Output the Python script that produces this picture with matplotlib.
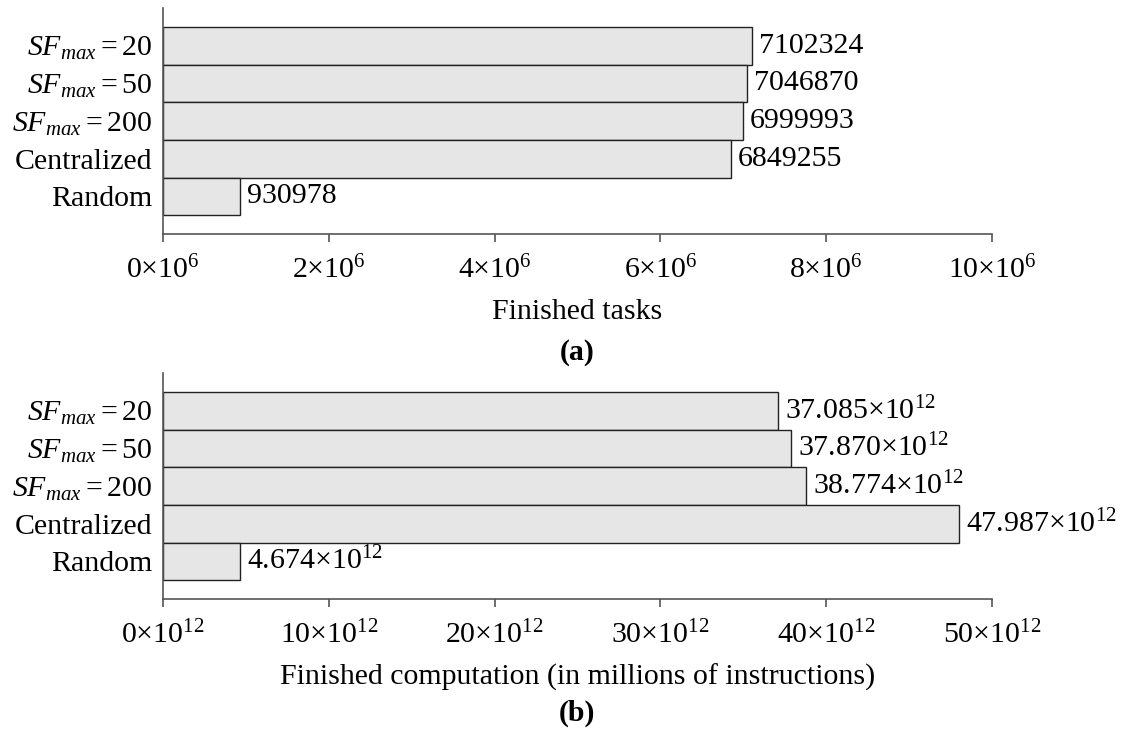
import numpy as np
import matplotlib.pyplot as plt

plt.rcParams["font.family"] = "Liberation Serif"
plt.rcParams["mathtext.fontset"] = "custom"
plt.rcParams["mathtext.rm"] = "Liberation Serif"
plt.rcParams["mathtext.it"] = "Liberation Serif:italic"
plt.rcParams["mathtext.bf"] = "Liberation Serif:bold"
plt.rcParams["font.size"] = 21.5

labels = [r"$SF_{max} = 20$", r"$SF_{max} = 50$", r"$SF_{max} = 200$",
          "Centralized", "Random"]
tasks = [7102324, 7046870, 6999993, 6849255, 930978]
comp = [37.085, 37.870, 38.774, 47.987, 4.674]  # x 10^12

fill = "#e6e6e6"
edge = "#222222"
axcol = "#555555"

fig = plt.figure(figsize=(11.21, 7.42), dpi=100)
ax1 = fig.add_axes([0.1454, 0.6846, 0.7395, 0.3046])
ax2 = fig.add_axes([0.1454, 0.1927, 0.7395, 0.3046])

ypos = np.arange(len(labels))[::-1]


def style(ax):
    for s in ["top", "right"]:
        ax.spines[s].set_visible(False)
    for s in ["left", "bottom"]:
        ax.spines[s].set_color(axcol)
        ax.spines[s].set_linewidth(1.2)
    ax.set_yticks(ypos)
    ax.set_yticklabels(labels)
    ax.tick_params(axis="y", length=0, pad=8)
    ax.tick_params(axis="x", direction="out", length=6, width=1.2,
                   color=axcol, pad=10)
    ax.set_ylim(-1, 5)


# finished tasks
bars = ax1.barh(ypos, tasks, height=1.0, color=fill, edgecolor=edge, linewidth=1)
style(ax1)
ax1.set_xlim(0, 10e6)
ticks = np.arange(0, 11, 2)
ax1.set_xticks(ticks * 1e6)
ax1.set_xticklabels([r"$\mathrm{%d{\times}10^{6}}$" % t for t in ticks])
ax1.bar_label(bars, labels=[str(v) for v in tasks], padding=5)
ax1.set_xlabel("Finished tasks", labelpad=10)

# finished computation
bars = ax2.barh(ypos, comp, height=1.0, color=fill, edgecolor=edge, linewidth=1)
style(ax2)
ax2.set_xlim(0, 50)
ticks = np.arange(0, 51, 10)
ax2.set_xticks(ticks)
ax2.set_xticklabels([r"$\mathrm{%d{\times}10^{12}}$" % t for t in ticks])
ax2.bar_label(bars, labels=[r"$\mathrm{%.3f{\times}10^{12}}$" % v for v in comp],
              padding=5)
ax2.set_xlabel("Finished computation (in millions of instructions)", labelpad=10)

cx = 0.1454 + 0.7395 / 2
fig.text(cx, 1 - 352 / 742, "(a)", ha="center", va="center", fontweight="bold")
fig.text(cx, 1 - 713 / 742, "(b)", ha="center", va="center", fontweight="bold")

fig.savefig("out.png", dpi=100)
